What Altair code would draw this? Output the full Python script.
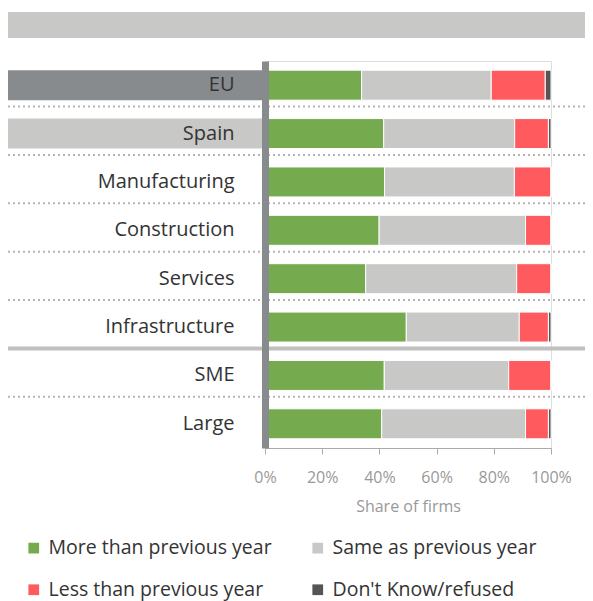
import altair as alt
import pandas as pd

categories = ["EU", "Spain", "Manufacturing", "Construction", "Services",
              "Infrastructure", "SME", "Large"]
more = [33.8, 41.5, 41.8, 39.9, 35.2, 49.4, 41.7, 40.8]
same = [45.3, 45.8, 45.4, 51.2, 52.8, 39.5, 43.5, 50.3]
less = [18.9, 11.8, 12.8, 8.9, 12.0, 10.2, 14.8, 8.0]
dontknow = [2.0, 0.9, 0.0, 0.0, 0.0, 0.9, 0.0, 0.9]

series = ["More than previous year", "Same as previous year",
          "Less than previous year", "Don't Know/refused"]
colors = ["#76aa4f", "#c8c8c6", "#ff5a5e", "#555555"]
tick_values = [0, 0.2, 0.4, 0.6, 0.8, 1.0]

dotted_above = ["Spain", "Manufacturing", "Construction", "Services",
                "Infrastructure", "Large"]
solid_above = ["SME"]

rows = []
for i, c in enumerate(categories):
    for j, (s, vals) in enumerate(zip(series, [more, same, less, dontknow])):
        rows.append({"cat": c, "series": s, "order": j, "value": vals[i] / 100.0})
df = pd.DataFrame(rows)

FONT = "Open Sans"

yscale = alt.Scale(domain=categories, paddingInner=0.38, paddingOuter=0.19)

bars = alt.Chart(df).mark_bar(stroke="white", strokeWidth=1).encode(
    y=alt.Y("cat:N", sort=categories, scale=yscale, title=None,
            axis=alt.Axis(ticks=False, domainColor="#888b8e", domainWidth=7,
                          labelFontSize=20, labelColor="#333333", labelPadding=31,
                          labelFont=FONT, zindex=1, labelLimit=300)),
    x=alt.X("value:Q", stack="zero", title="Share of firms",
            scale=alt.Scale(domain=[0, 1], nice=False),
            axis=alt.Axis(values=tick_values, format="%", grid=False,
                          labelFlush=False,
                          domainColor="#aaaaaa", tickColor="#aaaaaa", tickSize=6,
                          labelColor="#999999", labelFontSize=16, labelFont=FONT,
                          labelPadding=15, titleColor="#999999", titleFontSize=16,
                          titleFont=FONT, titleFontWeight="normal", titlePadding=13)),
    color=alt.Color("series:N", scale=alt.Scale(domain=series, range=colors),
                    legend=alt.Legend(orient="none", legendX=-241, legendY=477,
                                      direction="horizontal",
                                      columns=2, columnPadding=36, rowPadding=21,
                                      symbolType="square", symbolSize=115,
                                      symbolStrokeWidth=0, labelFontSize=19.5,
                                      labelColor="#333333", labelFont=FONT,
                                      labelOffset=5, labelLimit=400,
                                      title=None, padding=0)),
    order=alt.Order("order:Q"),
)

box_df = pd.DataFrame({"cat": ["EU", "Spain"], "shade": ["dark", "light"]})
boxes = alt.Chart(box_df).mark_bar().encode(
    y=alt.Y("cat:N", sort=categories, title=None),
    x=alt.value(-258),
    x2=alt.value(-3),
    fill=alt.Fill("shade:N", scale=alt.Scale(domain=["dark", "light"],
                                             range=["#888b8e", "#c8c8c6"]),
                  legend=None),
)

dots = alt.Chart(pd.DataFrame({"cat": dotted_above})).mark_rule(
    strokeDash=[2, 3], strokeWidth=2, color="#b4b4b4", yOffset=-12
).encode(
    y=alt.Y("cat:N", sort=categories, bandPosition=0, title=None),
    x=alt.value(-257),
    x2=alt.value(330),
)

solid = alt.Chart(pd.DataFrame({"cat": solid_above})).mark_rule(
    strokeWidth=4, color="#c0c0c0", yOffset=-12
).encode(
    y=alt.Y("cat:N", sort=categories, bandPosition=0, title=None),
    x=alt.value(-257),
    x2=alt.value(330),
)

banner = alt.Chart(pd.DataFrame({"k": [0]})).mark_rect(color="#c8c8c6").encode(
    x=alt.value(-258), x2=alt.value(330), y=alt.value(-49), y2=alt.value(-23)
)

chart = alt.layer(banner, dots, solid, boxes, bars).properties(
    width=286, height=387,
    padding={"left": 257, "top": 53, "right": 34, "bottom": 156},
    autosize=alt.AutoSizeParams(type="none"),
).configure_view(stroke=None).configure(font=FONT)

chart.save("out.html", embed_options={"renderer": "svg", "actions": False})
